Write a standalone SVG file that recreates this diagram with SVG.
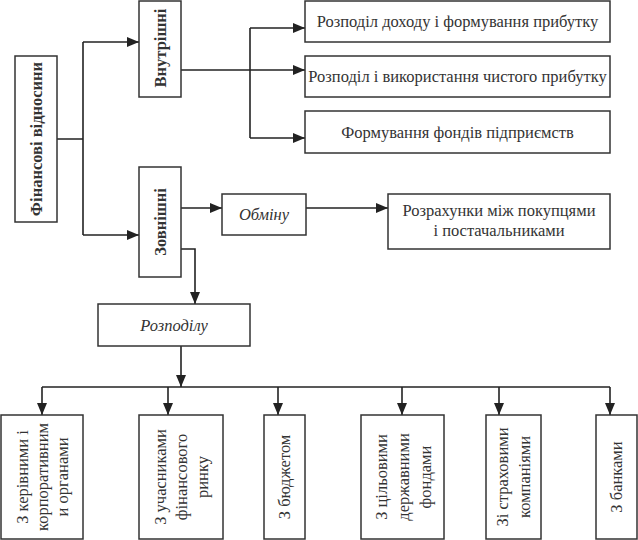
<svg xmlns="http://www.w3.org/2000/svg" width="638" height="540" viewBox="0 0 638 540">
<defs>
<marker id="ah" markerUnits="userSpaceOnUse" markerWidth="12" markerHeight="10" viewBox="0 0 12 10" refX="12" refY="5" orient="auto">
<path d="M0,0 L12,5 L0,10 Z" fill="#222"/>
</marker>
<style>
.box{fill:#fff;stroke:#333;stroke-width:1.5}
.c{fill:none;stroke:#222;stroke-width:1.6}
</style>
</defs>
<rect width="638" height="540" fill="#fff"/>
<g id="connectors">
<path class="c" d="M57,139 H83 M83,42 V235"/>
<path class="c" d="M83,42 H139" marker-end="url(#ah)"/>
<path class="c" d="M83,235 H139" marker-end="url(#ah)"/>
<path class="c" d="M181,70 H305" marker-end="url(#ah)"/>
<path class="c" d="M250,28 V138"/>
<path class="c" d="M250,28 H305" marker-end="url(#ah)"/>
<path class="c" d="M250,138 H305" marker-end="url(#ah)"/>
<path class="c" d="M181,208 H222" marker-end="url(#ah)"/>
<path class="c" d="M306,208 H388" marker-end="url(#ah)"/>
<path class="c" d="M181,249 H195 V304" marker-end="url(#ah)"/>
<path class="c" d="M181,346 V387" marker-end="url(#ah)"/>
<path class="c" d="M42,387 H610"/>
<path class="c" d="M42,387 V415" marker-end="url(#ah)"/>
<path class="c" d="M168,387 V415" marker-end="url(#ah)"/>
<path class="c" d="M278,387 V415" marker-end="url(#ah)"/>
<path class="c" d="M402,387 V415" marker-end="url(#ah)"/>
<path class="c" d="M499,387 V415" marker-end="url(#ah)"/>
<path class="c" d="M610,387 V415" marker-end="url(#ah)"/>
</g>
<g id="fin">
<rect class="box" x="15" y="56" width="42" height="166"/>
<text font-family="Liberation Serif" font-size="16.5" font-weight="bold" fill="#333" text-anchor="middle" transform="translate(36,139) rotate(-90)" y="5.5">Фінансові відносини</text>
</g>
<g id="vnut">
<rect class="box" x="139" y="1" width="42" height="96"/>
<text font-family="Liberation Serif" font-size="16.5" font-weight="bold" fill="#333" text-anchor="middle" transform="translate(160,48) rotate(-90)" y="5.5">Внутрішні</text>
</g>
<g id="zovn">
<rect class="box" x="139" y="167" width="42" height="110"/>
<text font-family="Liberation Serif" font-size="16.5" font-weight="bold" fill="#333" text-anchor="middle" transform="translate(160,222) rotate(-90)" y="5.5">Зовнішні</text>
</g>
<g id="n1">
<rect class="box" x="305" y="1" width="305" height="41"/>
<text font-family="Liberation Serif" font-size="16.5" fill="#333" text-anchor="middle" x="457.5" y="27">Розподіл доходу і формування прибутку</text>
</g>
<g id="n2">
<rect class="box" x="305" y="56" width="305" height="41"/>
<text font-family="Liberation Serif" font-size="16.5" fill="#333" text-anchor="middle" x="457.5" y="82">Розподіл і використання чистого прибутку</text>
</g>
<g id="n3">
<rect class="box" x="305" y="111" width="305" height="42"/>
<text font-family="Liberation Serif" font-size="16.5" fill="#333" text-anchor="middle" x="457.5" y="137.5">Формування фондів підприємств</text>
</g>
<g id="obminu">
<rect class="box" x="222" y="194" width="84" height="41"/>
<text font-family="Liberation Serif" font-size="16.5" font-style="italic" fill="#333" text-anchor="middle" x="264" y="220">Обміну</text>
</g>
<g id="rozrah">
<rect class="box" x="388" y="194" width="222" height="55"/>
<text font-family="Liberation Serif" font-size="16.5" fill="#333" text-anchor="middle" x="499" y="215.5">Розрахунки між покупцями</text>
<text font-family="Liberation Serif" font-size="16.5" fill="#333" text-anchor="middle" x="499" y="236">і постачальниками</text>
</g>
<g id="rozpodilu">
<rect class="box" x="98" y="304" width="152" height="42"/>
<text font-family="Liberation Serif" font-size="16.5" font-style="italic" fill="#333" text-anchor="middle" x="174" y="330.5">Розподілу</text>
</g>
<g id="bA">
<rect class="box" x="1" y="415" width="82" height="124"/>
<text font-family="Liberation Serif" font-size="16.5" fill="#333" text-anchor="middle" transform="translate(42,477) rotate(-90)"><tspan x="0" y="-14">З керівними і</tspan><tspan x="0" y="6">корпоративним</tspan><tspan x="0" y="26">и органами</tspan></text>
</g>
<g id="bB">
<rect class="box" x="139" y="415" width="84" height="124"/>
<text font-family="Liberation Serif" font-size="16.5" fill="#333" text-anchor="middle" transform="translate(181,477) rotate(-90)"><tspan x="0" y="-15">З учасниками</tspan><tspan x="0" y="6">фінансового</tspan><tspan x="0" y="27">ринку</tspan></text>
</g>
<g id="bC">
<rect class="box" x="264" y="415" width="41" height="124"/>
<text font-family="Liberation Serif" font-size="16.5" fill="#333" text-anchor="middle" transform="translate(284.5,477) rotate(-90)" y="5.5">З бюджетом</text>
</g>
<g id="bD">
<rect class="box" x="361" y="415" width="83" height="124"/>
<text font-family="Liberation Serif" font-size="16.5" fill="#333" text-anchor="middle" transform="translate(402.5,477) rotate(-90)"><tspan x="0" y="-16">З цільовими</tspan><tspan x="0" y="6">державними</tspan><tspan x="0" y="28">фондами</tspan></text>
</g>
<g id="bE">
<rect class="box" x="486" y="415" width="55" height="124"/>
<text font-family="Liberation Serif" font-size="16.5" fill="#333" text-anchor="middle" transform="translate(513.5,477) rotate(-90)"><tspan x="0" y="-6">Зі страховими</tspan><tspan x="0" y="16">компаніями</tspan></text>
</g>
<g id="bF">
<rect class="box" x="596" y="415" width="41" height="124"/>
<text font-family="Liberation Serif" font-size="16.5" fill="#333" text-anchor="middle" transform="translate(616.5,477) rotate(-90)" y="5.5">З банками</text>
</g>
</svg>
